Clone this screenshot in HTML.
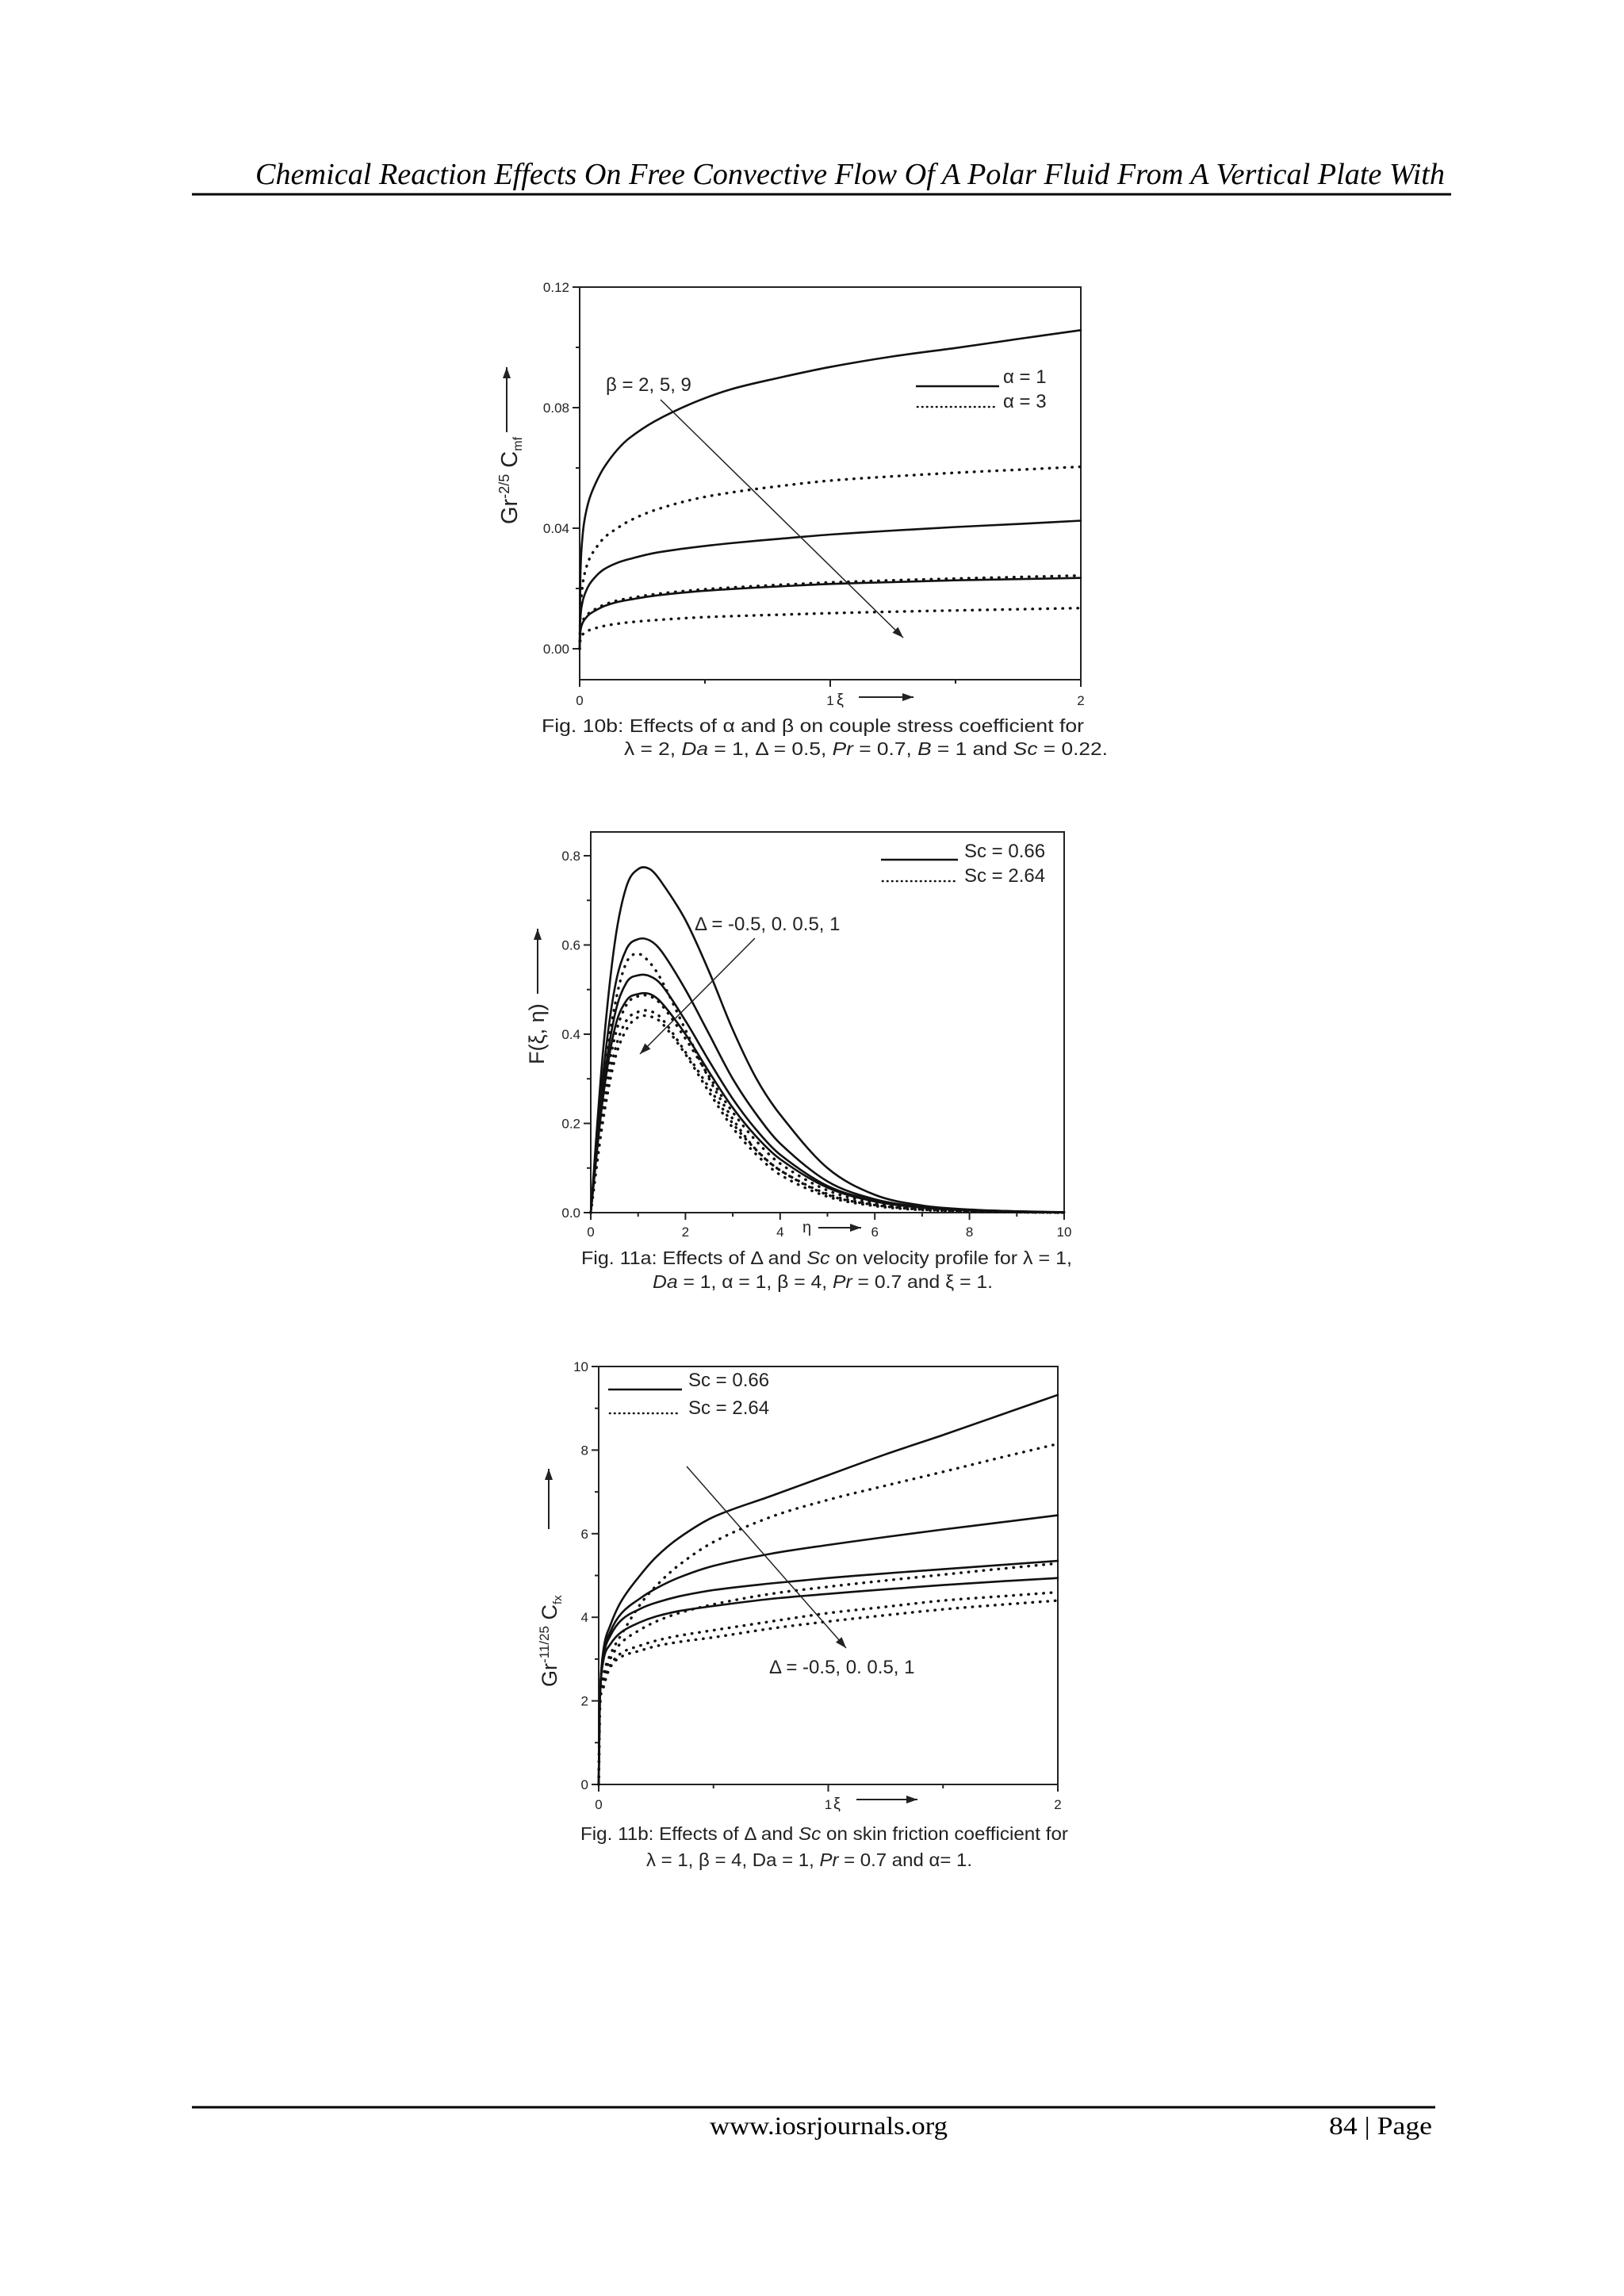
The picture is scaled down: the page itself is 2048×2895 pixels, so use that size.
<!DOCTYPE html>
<html><head><meta charset="utf-8">
<style>
html,body{margin:0;padding:0;background:#fff;}
svg{display:block;}
text{font-family:"Liberation Sans",Arial,sans-serif;fill:#222;}
.serif{font-family:"Liberation Serif","Times New Roman",serif;fill:#000;}
</style></head>
<body>
<svg id="page" width="2048" height="2895" viewBox="0 0 2048 2895" xmlns="http://www.w3.org/2000/svg">
<rect width="2048" height="2895" fill="#fff"/>
<text class="serif" x="322" y="232" font-size="38" font-style="italic" textLength="1500" lengthAdjust="spacingAndGlyphs">Chemical Reaction Effects On Free Convective Flow Of A Polar Fluid From A Vertical Plate With</text>
<line x1="242" y1="245" x2="1830" y2="245" stroke="#000" stroke-width="3"/>
<line x1="242" y1="2657" x2="1810" y2="2657" stroke="#000" stroke-width="3"/>
<text class="serif" x="895" y="2691" font-size="32" textLength="300" lengthAdjust="spacingAndGlyphs">www.iosrjournals.org</text>
<text class="serif" x="1676" y="2691" font-size="32" textLength="130" lengthAdjust="spacingAndGlyphs">84 | Page</text>
<g id="c1"></g>
<g id="c2"></g>
<g id="c3"></g>
</svg>
<script>
// ---------- Fig 10b data ----------
const xi10 = [0,0.003,0.01,0.02,0.04,0.07,0.1,0.15,0.2,0.3,0.45,0.6,0.8,1.0,1.25,1.5,1.75,2];
const f10_a1_b2 = [0,0.024,0.036,0.043,0.050,0.056,0.0605,0.066,0.0700,0.0755,0.0815,0.0860,0.0900,0.0935,0.0970,0.0998,0.1028,0.1057];
const f10_a1_b5 = [0,0.010,0.015,0.018,0.0215,0.0245,0.0265,0.0285,0.0298,0.0318,0.0336,0.0350,0.0365,0.0379,0.0392,0.0404,0.0414,0.0425];
const f10_a1_b9 = [0,0.0055,0.0082,0.0097,0.0115,0.0130,0.0142,0.0155,0.0163,0.0176,0.0189,0.0198,0.0207,0.0215,0.0221,0.0227,0.0231,0.0235];
const f10_a3_b2 = [0,0.012,0.020,0.025,0.030,0.034,0.037,0.040,0.0425,0.0460,0.0495,0.0518,0.0540,0.0558,0.0572,0.0584,0.0594,0.0604];
const f10_a3_b5 = [0,0.006,0.0088,0.0103,0.0120,0.0135,0.0147,0.0160,0.0168,0.0181,0.0194,0.0203,0.0212,0.0220,0.0227,0.0233,0.0238,0.0243];
const f10_a3_b9 = [0,0.003,0.0045,0.0053,0.0062,0.0070,0.0076,0.0083,0.0088,0.0095,0.0103,0.0108,0.0113,0.0118,0.0123,0.0127,0.0131,0.0135];
const ticks10y = ["0.00","0.04","0.08","0.12"];
const ticks10x = ["0","1","2"];
// ---------- Fig 11a data ----------
const eta11 = [0,0.25,0.5,0.75,1,1.25,1.5,2,2.5,3,3.5,4,5,6,7,8,9,10];
const f11a_s1 = [0,0.35,0.6,0.73,0.77,0.77,0.74,0.656,0.54,0.41,0.3,0.22,0.1,0.04,0.016,0.007,0.003,0];
const f11a_s2 = [0,0.3,0.5,0.59,0.613,0.61,0.585,0.5,0.4,0.3,0.22,0.155,0.07,0.03,0.013,0.006,0.003,0.001];
const f11a_s3 = [0,0.27,0.44,0.515,0.532,0.53,0.51,0.43,0.34,0.255,0.185,0.13,0.06,0.027,0.012,0.005,0.002,0.001];
const f11a_s4 = [0,0.25,0.41,0.475,0.49,0.49,0.47,0.4,0.315,0.235,0.17,0.12,0.056,0.025,0.011,0.005,0.002,0.001];
const f11a_d1 = [0,0.28,0.46,0.56,0.58,0.56,0.52,0.41,0.3,0.21,0.14,0.095,0.04,0.017,0.007,0.003,0.001,0];
const f11a_d2 = [0,0.24,0.39,0.465,0.485,0.485,0.465,0.39,0.305,0.225,0.16,0.11,0.05,0.022,0.01,0.004,0.002,0];
const f11a_d3 = [0,0.22,0.36,0.43,0.45,0.452,0.435,0.36,0.28,0.2,0.14,0.095,0.042,0.018,0.008,0.003,0.001,0];
const f11a_d4 = [0,0.2,0.34,0.41,0.438,0.44,0.425,0.355,0.27,0.19,0.13,0.085,0.036,0.015,0.006,0.003,0.001,0];
const ticks11ay = ["0.0","0.2","0.4","0.6","0.8"];
const ticks11ax = ["0","2","4","6","8","10"];
// ---------- Fig 11b data ----------
const xi11 = [0,0.005,0.02,0.05,0.1,0.18,0.25,0.35,0.5,0.75,1,1.25,1.5,1.75,2];
const f11b_s1 = [0,2.0,3.2,3.8,4.4,5.0,5.44,5.9,6.4,6.9,7.4,7.9,8.36,8.84,9.32];
const f11b_s2 = [0,2.0,3.1,3.65,4.1,4.45,4.69,4.95,5.23,5.52,5.73,5.92,6.1,6.27,6.44];
const f11b_s3 = [0,2.0,3.05,3.55,3.94,4.2,4.35,4.5,4.65,4.81,4.94,5.05,5.15,5.25,5.35];
const f11b_s4 = [0,1.95,2.95,3.35,3.65,3.88,4.02,4.15,4.27,4.44,4.56,4.67,4.77,4.86,4.94];
const f11b_d1 = [0,1.8,2.6,3.1,3.6,4.3,4.75,5.25,5.8,6.4,6.81,7.15,7.48,7.82,8.15];
const f11b_d2 = [0,1.8,2.5,3.0,3.4,3.7,3.9,4.1,4.31,4.56,4.73,4.88,5.02,5.16,5.29];
const f11b_d3 = [0,1.8,2.4,2.85,3.15,3.32,3.44,3.56,3.69,3.9,4.1,4.25,4.4,4.5,4.6];
const f11b_d4 = [0,1.8,2.3,2.8,3.06,3.2,3.31,3.41,3.52,3.73,3.9,4.05,4.19,4.3,4.4];
const ticks11by = ["0","2","4","6","8","10"];
const ticks11bx = ["0","1","2"];

const NS="http://www.w3.org/2000/svg";
function mk(parent,tag,attrs,txt){const e=document.createElementNS(NS,tag);for(const k in attrs)e.setAttribute(k,attrs[k]);if(txt!==undefined)e.textContent=txt;parent.appendChild(e);return e;}
function smooth(pts){let d="M"+pts[0][0].toFixed(1)+","+pts[0][1].toFixed(1);for(let i=0;i<pts.length-1;i++){const p0=pts[i-1]||pts[i],p1=pts[i],p2=pts[i+1],p3=pts[i+2]||p2;
  const dx=p2[0]-p1[0];
  const t1=(p2[0]-p0[0])>0?dx/(p2[0]-p0[0]):0, t2=(p3[0]-p1[0])>0?dx/(p3[0]-p1[0]):0;
  const c1=[p1[0]+(p2[0]-p0[0])*t1/3,p1[1]+(p2[1]-p0[1])*t1/3],c2=[p2[0]-(p3[0]-p1[0])*t2/3,p2[1]-(p3[1]-p1[1])*t2/3];
  d+=" C"+c1[0].toFixed(1)+","+c1[1].toFixed(1)+" "+c2[0].toFixed(1)+","+c2[1].toFixed(1)+" "+p2[0].toFixed(1)+","+p2[1].toFixed(1);}return d;}

function axes(g,c){
  const sx=v=>c.L+(v-c.x0)/(c.x1-c.x0)*(c.R-c.L);
  const sy=v=>c.B0-(v-c.y0)/(c.y1-c.y0)*(c.B0-c.T0);
  const frame=mk(g,"rect",{x:c.L,y:c.T,width:c.R-c.L,height:c.B-c.T,fill:"none",stroke:"#222","stroke-width":2});
  
  
  for(let v=c.y0;v<=c.y1+1e-9;v+=c.ymin){const maj=Math.abs(Math.round((v-c.y0)/c.ymaj)*c.ymaj-(v-c.y0))<1e-9;const y=sy(v);
    const t=mk(g,"line",{x1:c.L,x2:c.L-(maj?9:5),y1:y,y2:y,stroke:"#222","stroke-width":2});
    
    }
  c.yt.forEach((s,i)=>{const v=c.y0+i*c.ymaj;const t=mk(g,"text",{x:c.L-13,y:sy(v)+6,"font-size":17,"text-anchor":"end"},s);
    
    });
  for(let v=c.x0;v<=c.x1+1e-9;v+=c.xmin){const maj=Math.abs(Math.round((v-c.x0)/c.xmaj)*c.xmaj-(v-c.x0))<1e-9;const x=sx(v);
    const t=mk(g,"line",{x1:x,x2:x,y1:c.B,y2:c.B+(maj?9:5),stroke:"#222","stroke-width":2});
    
    }
  c.xt.forEach((s,i)=>{const v=c.x0+i*c.xmaj;const t=mk(g,"text",{x:sx(v),y:c.xly,"font-size":17,"text-anchor":"middle"},s);
    
    });
  return {sx,sy};
}
function series(g,s,xs,ys,dotted,name){
  const pts=xs.map((x,i)=>[s.sx(x),s.sy(ys[i])]);
  const p=mk(g,"path",{d:smooth(pts),fill:"none",stroke:"#111","stroke-width":dotted?3.4:2.6,"stroke-linecap":"round","stroke-dasharray":dotted?"0.5 9":"none"});
  
  
}
function arrow(g,x1,y1,x2,y2,name,w){
  const a=mk(g,"g",{});
  
  
  mk(a,"line",{x1,y1,x2,y2,stroke:"#222","stroke-width":w||1.5});
  const ang=Math.atan2(y2-y1,x2-x1),L=14,W=5;
  const bx=x2-L*Math.cos(ang),by=y2-L*Math.sin(ang);
  mk(a,"polygon",{points:`${x2},${y2} ${bx-W*Math.sin(ang)},${by+W*Math.cos(ang)} ${bx+W*Math.sin(ang)},${by-W*Math.cos(ang)}`,fill:"#222"});
}
function label(g,x,y,size,txt,name,extra){
  const t=mk(g,"text",Object.assign({x,y,"font-size":size},extra||{}));
  t.innerHTML=txt;
  
  
  return t;
}
function legendDot(g,x1,x2,y){mk(g,"line",{x1,x2,y1:y,y2:y,stroke:"#111","stroke-width":2.6,"stroke-dasharray":"0.5 5.5","stroke-linecap":"round"});}

// Chart 1
{const g=document.getElementById("c1");
 const s=axes(g,{L:731,R:1363,T:362,B:857,B0:818,T0:514,x0:0,x1:2,y0:0,y1:0.08,ymaj:0.04,ymin:0.02,xmaj:1,xmin:0.5,yt:[],xt:ticks10x,xly:889});
 ticks10y.forEach((t,i)=>{const v=i*0.04;const e=mk(g,"text",{x:718,y:s.sy(v)+6,"font-size":17,"text-anchor":"end"},t);
   
   });
 [0.1,0.12].forEach(v=>{const e=mk(g,"line",{x1:731,x2:731-(v===0.12?9:5),y1:s.sy(v),y2:s.sy(v),stroke:"#222","stroke-width":2});
   
   });
 series(g,s,xi10,f10_a1_b2,false,"line-alpha1-beta2");
 series(g,s,xi10,f10_a1_b5,false,"line-alpha1-beta5");
 series(g,s,xi10,f10_a1_b9,false,"line-alpha1-beta9");
 series(g,s,xi10,f10_a3_b2,true,"line-alpha3-beta2");
 series(g,s,xi10,f10_a3_b5,true,"line-alpha3-beta5");
 series(g,s,xi10,f10_a3_b9,true,"line-alpha3-beta9");
 arrow(g,833,504,1139,804,"beta-arrow");
 label(g,764,493,24,"β = 2, 5, 9","beta-label");
 mk(g,"line",{x1:1155,x2:1260,y1:487,y2:487,stroke:"#111","stroke-width":2.6});
 label(g,1265,483,24,"α = 1","legend-alpha1");
 legendDot(g,1157,1256,513);
 label(g,1265,514,24,"α = 3","legend-alpha3");
 label(g,0,0,29,'Gr<tspan dy="-10" font-size="18">-2/5</tspan><tspan dy="10"> C</tspan><tspan dy="6" font-size="16">mf</tspan>',"y-axis-title",{transform:"translate(652,661) rotate(-90)"});
 arrow(g,639,545,639,463,"y-axis-arrow",2);
 label(g,1055,889,20,"ξ","x-axis-title");
 arrow(g,1083,879,1152,879,"x-axis-arrow",2);
 label(g,683,923,23,"Fig. 10b: Effects of α and β on couple stress coefficient for","caption-line1",{textLength:684,lengthAdjust:"spacingAndGlyphs"});
 label(g,787,952,23,"λ = 2, <tspan font-style='italic'>Da</tspan> = 1, Δ = 0.5, <tspan font-style='italic'>Pr</tspan> = 0.7, <tspan font-style='italic'>B</tspan> = 1 and <tspan font-style='italic'>Sc</tspan> = 0.22.","caption-line2",{textLength:610,lengthAdjust:"spacingAndGlyphs"});
}
// Chart 2
{const g=document.getElementById("c2");
 const s=axes(g,{L:745,R:1342,T:1049,B:1529,B0:1529,T0:1079,x0:0,x1:10,y0:0,y1:0.8,ymaj:0.2,ymin:0.1,xmaj:2,xmin:1,yt:ticks11ay,xt:ticks11ax,xly:1559});
 series(g,s,eta11,f11a_s1,false,"line-sc066-delta-neg05");
 series(g,s,eta11,f11a_s2,false,"line-sc066-delta-0");
 series(g,s,eta11,f11a_s3,false,"line-sc066-delta-05");
 series(g,s,eta11,f11a_s4,false,"line-sc066-delta-1");
 series(g,s,eta11,f11a_d1,true,"line-sc264-delta-neg05");
 series(g,s,eta11,f11a_d2,true,"line-sc264-delta-0");
 series(g,s,eta11,f11a_d3,true,"line-sc264-delta-05");
 series(g,s,eta11,f11a_d4,true,"line-sc264-delta-1");
 arrow(g,952,1183,807,1329,"delta-arrow");
 label(g,876,1173,24,"Δ = -0.5, 0. 0.5, 1","delta-label");
 mk(g,"line",{x1:1111,x2:1208,y1:1084,y2:1084,stroke:"#111","stroke-width":2.6});
 label(g,1216,1081,24,"Sc = 0.66","legend-sc066");
 legendDot(g,1113,1206,1111);
 label(g,1216,1112,24,"Sc = 2.64","legend-sc264");
 label(g,0,0,27,"F(ξ, η)","y-axis-title",{transform:"translate(686,1342) rotate(-90)"});
 arrow(g,678,1253,678,1171,"y-axis-arrow",2);
 label(g,1012,1554,20,"η","x-axis-title");
 arrow(g,1032,1548,1086,1548,"x-axis-arrow",2);
 label(g,733,1594,23,"Fig. 11a: Effects of Δ and <tspan font-style='italic'>Sc</tspan> on velocity profile for λ = 1,","caption-line1",{textLength:619,lengthAdjust:"spacingAndGlyphs"});
 label(g,823,1624,23,"<tspan font-style='italic'>Da</tspan> = 1, α = 1, β = 4, <tspan font-style='italic'>Pr</tspan> = 0.7 and ξ = 1.","caption-line2",{textLength:429,lengthAdjust:"spacingAndGlyphs"});
}
// Chart 3
{const g=document.getElementById("c3");
 const s=axes(g,{L:755,R:1334,T:1723,B:2250,B0:2250,T0:1723,x0:0,x1:2,y0:0,y1:10,ymaj:2,ymin:1,xmaj:1,xmin:0.5,yt:ticks11by,xt:ticks11bx,xly:2281});
 series(g,s,xi11,f11b_s1,false,"line-sc066-delta-neg05");
 series(g,s,xi11,f11b_s2,false,"line-sc066-delta-0");
 series(g,s,xi11,f11b_s3,false,"line-sc066-delta-05");
 series(g,s,xi11,f11b_s4,false,"line-sc066-delta-1");
 series(g,s,xi11,f11b_d1,true,"line-sc264-delta-neg05");
 series(g,s,xi11,f11b_d2,true,"line-sc264-delta-0");
 series(g,s,xi11,f11b_d3,true,"line-sc264-delta-05");
 series(g,s,xi11,f11b_d4,true,"line-sc264-delta-1");
 arrow(g,866,1849,1067,2078,"delta-arrow");
 label(g,970,2110,24,"Δ = -0.5, 0. 0.5, 1","delta-label");
 mk(g,"line",{x1:767,x2:860,y1:1752,y2:1752,stroke:"#111","stroke-width":2.6});
 label(g,868,1748,24,"Sc = 0.66","legend-sc066");
 legendDot(g,769,858,1782);
 label(g,868,1783,24,"Sc = 2.64","legend-sc264");
 label(g,0,0,27,'Gr<tspan dy="-10" font-size="17">-11/25</tspan><tspan dy="10"> C</tspan><tspan dy="6" font-size="15">fx</tspan>',"y-axis-title",{transform:"translate(702,2127) rotate(-90)"});
 arrow(g,692,1928,692,1852,"y-axis-arrow",2);
 label(g,1051,2281,20,"ξ","x-axis-title");
 arrow(g,1080,2269,1157,2269,"x-axis-arrow",2);
 label(g,732,2320,23,"Fig. 11b: Effects of Δ and <tspan font-style='italic'>Sc</tspan> on skin friction coefficient for","caption-line1",{textLength:615,lengthAdjust:"spacingAndGlyphs"});
 label(g,815,2353,23,"λ = 1, β = 4, Da = 1, <tspan font-style='italic'>Pr</tspan> = 0.7 and α= 1.","caption-line2",{textLength:411,lengthAdjust:"spacingAndGlyphs"});
}
</script>
</body></html>
